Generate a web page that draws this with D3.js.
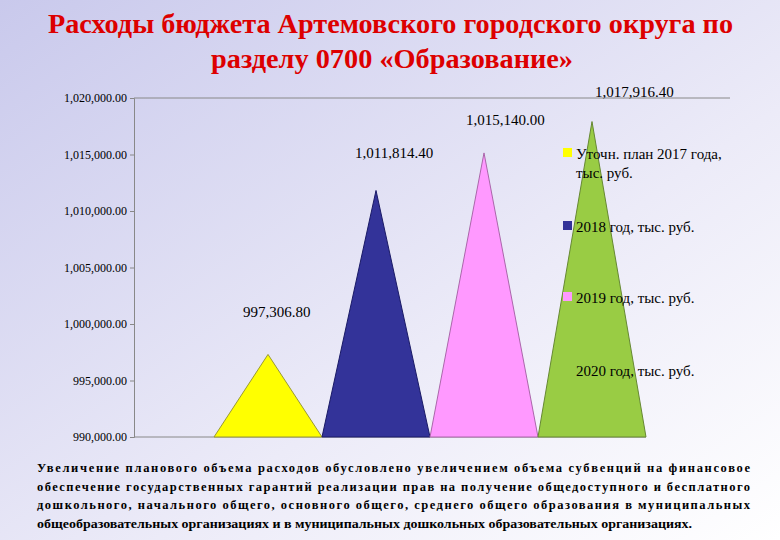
<!DOCTYPE html>
<html><head><meta charset="utf-8">
<script src="https://cdn.jsdelivr.net/npm/d3@7"></script>
<style>body{margin:0;}svg{display:block;}</style>
</head><body>
<script>
const categories = ["Уточн. план 2017 года, тыс. руб.", "2018 год, тыс. руб.", "2019 год, тыс. руб.", "2020 год, тыс. руб."];
const values = [997306.80, 1011814.40, 1015140.00, 1017916.40];
const valueLabels = ["997,306.80", "1,011,814.40", "1,015,140.00", "1,017,916.40"];
const ticks = [990000, 995000, 1000000, 1005000, 1010000, 1015000, 1020000];
const colors = ["#ffff00", "#333399", "#ff99ff", "#99cc44"];
const strokes = ["#999933", "#1a1a66", "#aa66aa", "#668833"];

const W = 780, H = 540;
const svg = d3.select("body").append("svg").attr("width", W).attr("height", H);
const defs = svg.append("defs");
const g = defs.append("linearGradient").attr("id","bg").attr("x1","0").attr("y1","0").attr("x2","1").attr("y2","1");
g.append("stop").attr("offset","0").attr("stop-color","#c9c9ec");
g.append("stop").attr("offset","0.6").attr("stop-color","#ecebf8");
g.append("stop").attr("offset","1").attr("stop-color","#ffffff");
svg.append("rect").attr("width",W).attr("height",H).attr("fill","url(#bg)");

svg.append("text").attr("x",48).attr("y",33).attr("textLength",685).attr("lengthAdjust","spacingAndGlyphs")
  .attr("font-family","Liberation Serif").attr("font-weight","bold").attr("font-size",27).attr("fill","#dd0000")
  .text("Расходы бюджета Артемовского городского округа по");
svg.append("text").attr("x",211).attr("y",68).attr("textLength",362).attr("lengthAdjust","spacingAndGlyphs")
  .attr("font-family","Liberation Serif").attr("font-weight","bold").attr("font-size",27).attr("fill","#dd0000")
  .text("разделу 0700 «Образование»");

const y = d3.scaleLinear().domain([990000,1020000]).range([437,98]);
const x = d3.scaleBand().domain(categories).range([214,646]).padding(0);

svg.append("line").attr("x1",134).attr("x2",730).attr("y1",y(1020000)).attr("y2",y(1020000)).attr("stroke","#888");
const ax = svg.append("g").attr("transform","translate(134,0)")
  .call(d3.axisLeft(y).tickValues(ticks).tickFormat(d=>d3.format(",.2f")(d)).tickSize(4));
ax.select(".domain").attr("stroke","#888");
ax.selectAll("line").attr("stroke","#888");
ax.selectAll("text").attr("font-family","Liberation Serif").attr("font-size",12).attr("fill","#000");
svg.append("line").attr("x1",134).attr("x2",646).attr("y1",437).attr("y2",437).attr("stroke","#888");

svg.selectAll("path.tri").data(categories).enter().append("path")
  .attr("d",(c,i)=>{const x0=x(c),x1=x0+x.bandwidth(),xm=x0+x.bandwidth()/2;
    return `M${x0},${y(990000)}L${xm},${y(values[i])}L${x1},${y(990000)}Z`;})
  .attr("fill",(c,i)=>colors[i]).attr("stroke",(c,i)=>strokes[i]).attr("stroke-width",1);

svg.selectAll("text.vl").data(valueLabels).enter().append("text")
  .attr("x",(d,i)=>x(categories[i])+x.bandwidth()/2+[-25,-21,-18,3][i])
  .attr("y",(d,i)=>y(values[i])-[37,32,28,25][i])
  .attr("font-family","Liberation Serif").attr("font-size",15).attr("fill","#000").text(d=>d);

const legY=[159,232,303,376];
const leg = svg.selectAll("g.leg").data(categories).enter().append("g");
leg.append("rect").attr("x",563).attr("y",(d,i)=>legY[i]-11).attr("width",9).attr("height",9).attr("fill",(d,i)=>colors[i]);
leg.each(function(d,i){
  const t=d3.select(this).append("text").attr("font-family","Liberation Serif").attr("font-size",15).attr("fill","#000");
  if(i===0){
    t.append("tspan").attr("x",576).attr("y",legY[i]).text("Уточн. план 2017 года,");
    t.append("tspan").attr("x",576).attr("y",legY[i]+19).text("тыс. руб.");
  } else t.append("tspan").attr("x",576).attr("y",legY[i]).text(d);
});

const para=["Увеличение планового объема расходов обусловлено увеличением объема субвенций на финансовое",
"обеспечение государственных гарантий реализации прав на получение общедоступного и бесплатного",
"дошкольного, начального общего, основного общего, среднего общего образования в муниципальных",
"общеобразовательных организациях и в муниципальных дошкольных образовательных организациях."];
para.forEach((s,i)=>{
  const t=svg.append("text").attr("x",37).attr("y",472+i*18.5).attr("font-family","Liberation Serif")
   .attr("font-weight","bold").attr("font-size",12.5).attr("fill","#000").text(s);
  if(i<3) t.attr("textLength",713).attr("lengthAdjust","spacing");
  else t.attr("textLength",655).attr("lengthAdjust","spacingAndGlyphs");
});
</script>
</body></html>
